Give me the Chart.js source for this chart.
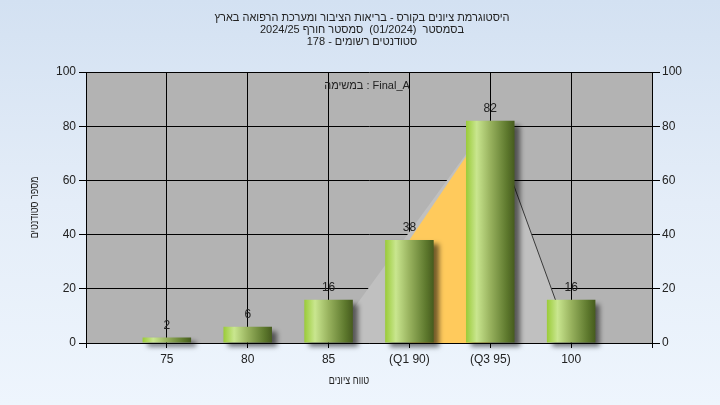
<!DOCTYPE html>
<html lang="he">
<head>
<meta charset="utf-8">
<script src="https://cdn.jsdelivr.net/npm/chart.js@4"></script>
<style>
  html, body { margin: 0; padding: 0; }
  body {
    width: 720px; height: 405px; overflow: hidden;
    background: linear-gradient(to bottom, #d3e1f2 0%, #e4edf8 50%, #eef5fd 100%);
  }
  canvas { display: block; }
</style>
</head>
<body>
<canvas id="histo" width="720" height="405"></canvas>
<script>
// ----- data -----
const categories = ['75', '80', '85', '(Q1 90)', '(Q3 95)', '100'];
const counts = [2, 6, 16, 38, 82, 16];
const yTicks = [0, 20, 40, 60, 80, 100];
// shaded shapes behind the bars: [category index, value]
const spreadShape = [[2, 0], [4, 82], [5, 0]];
const quartileBand = [[3, 38], [4, 82]];

const titleLines = [
  'היסטוגרמת ציונים בקורס - בריאות הציבור ומערכת הרפואה בארץ',
  'בסמסטר  (01/2024)  סמסטר חורף 2024/25',
  'סטודנטים רשומים - 178'
];
const taskLabel = 'במשימה : Final_A';
const xTitle = 'טווח ציונים';
const yTitle = 'מספר סטודנטים';

const FONT = '"Liberation Sans", Arial, sans-serif';
const TEXT = '#222';

// empty slot on each side of the categories
const labels = ['', ...categories, ''];
const barData = [null, ...counts, null];
const toXY = pts => pts.map(p => ({ x: p[0] + 1, y: p[1] }));

// gradient per bar, built from the category scale
function barFill(c) {
  const chart = c.chart;
  const xs = chart.scales.x;
  if (!xs || c.type !== 'data') return '#8fb04a';
  const cx = xs.getPixelForValue(c.dataIndex);
  const half = (xs.width / (labels.length - 1)) * 0.6 / 2;
  if (!isFinite(cx) || !isFinite(half) || half <= 0) return '#8fb04a';
  const g = chart.ctx.createLinearGradient(cx - half, 0, cx + half, 0);
  g.addColorStop(0, '#9acb38');
  g.addColorStop(0.22, '#c9e68f');
  g.addColorStop(0.5, '#98b25e');
  g.addColorStop(0.85, '#5c772c');
  g.addColorStop(1, '#465b1e');
  return g;
}

// plot background
const plotBg = {
  id: 'plotBg',
  beforeDraw(chart) {
    const a = chart.chartArea, ctx = chart.ctx;
    ctx.save();
    ctx.fillStyle = '#b3b3b3';
    ctx.fillRect(a.left, a.top, a.right - a.left, a.bottom - a.top);
    ctx.restore();
  }
};

// drop shadow under the bars
const barShadow = {
  id: 'barShadow',
  beforeDatasetDraw(chart, args) {
    if (args.index !== 0) return;
    const ctx = chart.ctx;
    ctx.save();
    ctx.shadowColor = 'rgba(0,0,0,0.55)';
    ctx.shadowBlur = 5;
    ctx.shadowOffsetX = 5;
    ctx.shadowOffsetY = 4;
  },
  afterDatasetDraw(chart, args) {
    if (args.index !== 0) return;
    chart.ctx.restore();
  }
};

// condensed text helper
function squeezed(ctx, text, x, y, sx, angle) {
  ctx.save();
  ctx.translate(x, y);
  if (angle) ctx.rotate(angle);
  ctx.scale(sx, 1);
  ctx.fillText(text, 0, 0);
  ctx.restore();
}

// values above bars + titles
const texts = {
  id: 'texts',
  afterDatasetsDraw(chart) {
    const ctx = chart.ctx;
    const meta = chart.getDatasetMeta(0);
    ctx.save();
    ctx.font = '12px ' + FONT;
    ctx.fillStyle = TEXT;
    ctx.textAlign = 'center';
    ctx.textBaseline = 'middle';
    meta.data.forEach((el, i) => {
      if (barData[i] == null) return;
      ctx.fillText(String(barData[i]), el.x, el.y - 12);
    });
    ctx.restore();
  },
  afterDraw(chart) {
    const ctx = chart.ctx;
    const a = chart.chartArea;
    ctx.save();
    ctx.font = '11px ' + FONT;
    ctx.fillStyle = TEXT;
    ctx.textAlign = 'center';
    ctx.textBaseline = 'middle';
    ctx.direction = 'rtl';
    titleLines.forEach((t, i) => ctx.fillText(t, 362, 18 + i * 12));
    squeezed(ctx, xTitle, 349, 381, 0.82, 0);
    squeezed(ctx, yTitle, 35, (a.top + a.bottom) / 2, 0.82, -Math.PI / 2);
    ctx.direction = 'ltr';
    ctx.fillText(taskLabel, 367, 86);
    ctx.restore();
  }
};

const yTickOpts = {
  min: yTicks[0],
  max: yTicks[yTicks.length - 1],
  afterBuildTicks: s => { s.ticks = yTicks.map(v => ({ value: v })); }
};

new Chart(document.getElementById('histo'), {
  type: 'bar',
  data: {
    labels: labels,
    datasets: [
      {
        data: barData,
        backgroundColor: barFill,
        borderWidth: 0,
        grouped: false,
        barPercentage: 0.6,
        categoryPercentage: 1,
        clip: false,
        order: 0
      },
      {
        type: 'line',
        xAxisID: 'xl',
        data: toXY(quartileBand),
        fill: 'origin',
        backgroundColor: '#ffca5c',
        borderWidth: 0,
        pointRadius: 0,
        order: 1
      },
      {
        type: 'line',
        xAxisID: 'xl',
        data: toXY(spreadShape.slice(1)),
        fill: false,
        borderColor: '#3a3a3a',
        borderWidth: 1,
        pointRadius: 0,
        order: 2
      },
      {
        type: 'line',
        xAxisID: 'xl',
        data: toXY(spreadShape),
        fill: 'origin',
        backgroundColor: '#c0c0c0',
        borderWidth: 0,
        pointRadius: 0,
        order: 3
      }
    ]
  },
  options: {
    responsive: false,
    animation: false,
    devicePixelRatio: 1,
    layout: { padding: { left: 0, right: 0, top: 72, bottom: 0 } },
    plugins: { legend: { display: false }, tooltip: { enabled: false } },
    scales: {
      x: {
        offset: false,
        grid: { offset: false, color: '#000', lineWidth: 1, tickLength: 5, tickColor: '#000' },
        border: { color: '#000' },
        ticks: { color: TEXT, font: { family: FONT, size: 12 }, padding: 4, maxRotation: 0, autoSkip: false },
        afterFit: s => { s.height = 62; }
      },
      xl: {
        type: 'linear',
        display: false,
        offset: false,
        min: 0,
        max: labels.length - 1
      },
      y: {
        position: 'left',
        ...yTickOpts,
        grid: { color: '#000', lineWidth: 1, tickLength: 7, tickColor: '#000' },
        border: { color: '#000' },
        ticks: { color: TEXT, font: { family: FONT, size: 12 }, padding: 3 },
        afterFit: s => { s.width = 86; }
      },
      y2: {
        position: 'right',
        ...yTickOpts,
        grid: { drawOnChartArea: false, tickLength: 8, tickColor: '#000' },
        border: { color: '#000' },
        ticks: { color: TEXT, font: { family: FONT, size: 12 }, padding: 2 },
        afterFit: s => { s.width = 68; }
      }
    }
  },
  plugins: [plotBg, barShadow, texts]
});
</script>
</body>
</html>
